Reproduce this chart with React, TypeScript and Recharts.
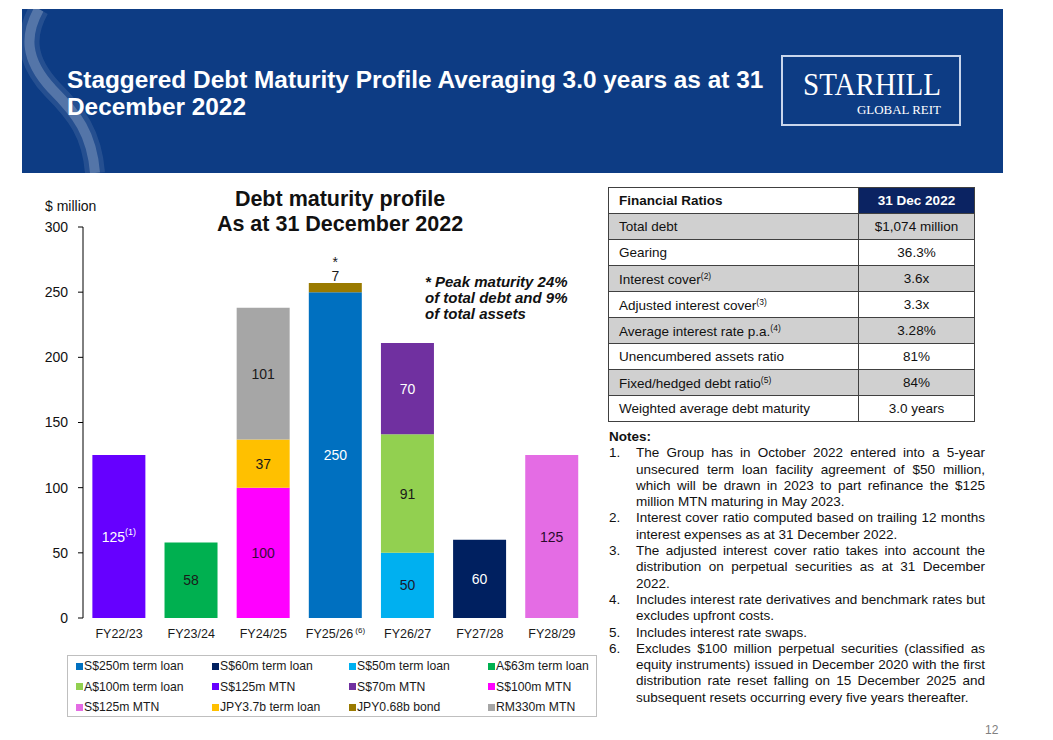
import React from 'react';
import { BarChart, Bar, XAxis, YAxis, LabelList, Legend } from 'recharts';

const FONT = '"Liberation Sans", Arial, Helvetica, sans-serif';
const SERIF = '"Liberation Serif", "DejaVu Serif", serif';

// ---------- chart data ----------
const categories = ['FY22/23', 'FY23/24', 'FY24/25', 'FY25/26', 'FY26/27', 'FY27/28', 'FY28/29'];
const categoryNotes = ['', '', '', '(6)', '', '', ''];
const yTicks = [0, 50, 100, 150, 200, 250, 300];
const boundaryTicks = [0, 1, 2, 3, 4, 5, 6, 7];

const sgd250mTermLoan = [0, 0, 0, 250, 0, 0, 0];
const sgd60mTermLoan = [0, 0, 0, 0, 0, 60, 0];
const sgd50mTermLoan = [0, 0, 0, 0, 50, 0, 0];
const aud63mTermLoan = [0, 58, 0, 0, 0, 0, 0];
const aud100mTermLoan = [0, 0, 0, 0, 91, 0, 0];
const sgd125mMtnA = [125, 0, 0, 0, 0, 0, 0];
const sgd70mMtn = [0, 0, 0, 0, 70, 0, 0];
const sgd100mMtn = [0, 0, 100, 0, 0, 0, 0];
const sgd125mMtnB = [0, 0, 0, 0, 0, 0, 125];
const jpy37bTermLoan = [0, 0, 37, 0, 0, 0, 0];
const jpy068bBond = [0, 0, 0, 7, 0, 0, 0];
const rm330mMtn = [0, 0, 101, 0, 0, 0, 0];

const sgd125mMtnANotes = ['(1)', '', '', '', '', '', ''];
const jpy068bBondMarks = ['', '', '', '*', '', '', ''];

const seriesNames = [
  'S$250m term loan', 'S$60m term loan', 'S$50m term loan', 'A$63m term loan',
  'A$100m term loan', 'S$125m MTN', 'S$70m MTN', 'S$100m MTN',
  'S$125m MTN', 'JPY3.7b term loan', 'JPY0.68b bond', 'RM330m MTN',
];
const seriesColors = [
  '#0070c0', '#002060', '#00b0f0', '#00b050',
  '#92d050', '#6600ff', '#7030a0', '#ff00ff',
  '#e46ce4', '#ffc000', '#9a7a00', '#a6a6a6',
];
const seriesLabelColors = [
  '#ffffff', '#ffffff', '#1a1a2e', '#1a1a1a',
  '#1a1a1a', '#ffffff', '#ffffff', '#3a0a3a',
  '#2a0a2a', '#1a1a1a', '#1a1a1a', '#1a1a1a',
];
const seriesValues = [
  sgd250mTermLoan, sgd60mTermLoan, sgd50mTermLoan, aud63mTermLoan,
  aud100mTermLoan, sgd125mMtnA, sgd70mMtn, sgd100mMtn,
  sgd125mMtnB, jpy37bTermLoan, jpy068bBond, rm330mMtn,
];
const seriesNotes = [null, null, null, null, null, sgd125mMtnANotes, null, null, null, null, null, null];
const seriesTopLabel = [false, false, false, false, false, false, false, false, false, false, true, false];
const seriesMarks = [null, null, null, null, null, null, null, null, null, null, jpy068bBondMarks, null];

const seriesKeys = seriesNames.map((_, i) => `s${i}`);
const data = categories.map((name, ci) => {
  const row: Record<string, any> = { name };
  seriesValues.forEach((vals, si) => { row[seriesKeys[si]] = vals[ci]; });
  return row;
});

// ---------- table / notes ----------
const ratioNames = ['Total debt', 'Gearing', 'Interest cover', 'Adjusted interest cover', 'Average interest rate p.a.', 'Unencumbered assets ratio', 'Fixed/hedged debt ratio', 'Weighted average debt maturity'];
const ratioNotes = ['', '', '(2)', '(3)', '(4)', '', '(5)', ''];
const ratioValues = ['$1,074 million', '36.3%', '3.6x', '3.3x', '3.28%', '81%', '84%', '3.0 years'];

const notes = [
  ['The Group has in October 2022 entered into a 5-year', 'unsecured term loan facility agreement of $50 million,', 'which will be drawn in 2023 to part refinance the $125', 'million MTN maturing in May 2023.'],
  ['Interest cover ratio computed based on trailing 12 months', 'interest expenses as at 31 December 2022.'],
  ['The adjusted interest cover ratio takes into account the', 'distribution on perpetual securities as at 31 December', '2022.'],
  ['Includes interest rate derivatives and benchmark rates but', 'excludes upfront costs.'],
  ['Includes interest rate swaps.'],
  ['Excludes $100 million perpetual securities (classified as', 'equity instruments) issued in December 2020 with the first', 'distribution rate reset falling on 15 December 2025 and', 'subsequent resets occurring every five years thereafter.'],
];

const makeLabel = (si: number) => (props: any) => {
  const { x, y, width, height, value } = props;
  const [vStr, cat] = String(value).split('|');
  const v = Number(vStr);
  if (!v) return null;
  const ci = categories.indexOf(cat);
  const cx = Number(x) + Number(width) / 2;
  const color = seriesLabelColors[si];
  if (seriesTopLabel[si]) {
    const mark = seriesMarks[si] ? seriesMarks[si]![ci] : '';
    return (
      <text textAnchor="middle" fontSize={14} fontFamily={FONT} fill={color}>
        {mark ? <tspan x={cx} y={Number(y) - 16} fill="#1a1a1a">{mark}</tspan> : null}
        <tspan x={cx} y={Number(y) - 2}>{v}</tspan>
      </text>
    );
  }
  const note = seriesNotes[si] ? seriesNotes[si]![ci] : '';
  const cy = Number(y) + Number(height) / 2;
  return (
    <text x={cx} y={cy + 5} textAnchor="middle" fontSize={14} fontFamily={FONT} fill={color}>
      {v}
      {note ? <tspan fontSize={9} dy={-7}>{note}</tspan> : null}
    </text>
  );
};

const XTick = (props: any) => {
  const { x, y, payload } = props;
  const note = categoryNotes[categories.indexOf(payload.value)];
  return (
    <text x={x} y={y} dy={12} textAnchor="middle" fontSize={12.5} fontFamily={FONT} fill="#1a1a1a">
      {payload.value}
      {note ? <tspan fontSize={8} dy={-5}>{' ' + note}</tspan> : null}
    </text>
  );
};

const LegendBox = () => (
  <div style={{
    width: 530, height: 62, border: '1px solid #bfbfbf', boxSizing: 'border-box',
    display: 'grid', gridTemplateColumns: '136px 137px 139px 110px', gridAutoRows: '20.5px',
    paddingLeft: 8, fontFamily: FONT, fontSize: 12.2, color: '#1a1a1a', background: '#fff',
  }}>
    {seriesNames.map((n, i) => (
      <div key={i} style={{ display: 'flex', alignItems: 'center', whiteSpace: 'nowrap' }}>
        <span style={{ display: 'inline-block', width: 7, height: 7, background: seriesColors[i], marginRight: 1 }} />
        {n}
      </div>
    ))}
  </div>
);

export default function App() {
  return (
    <div style={{ position: 'absolute', left: 0, top: 0, width: 1053, height: 740, background: '#fff', fontFamily: FONT, overflow: 'hidden' }}>
      {/* header */}
      <div style={{ position: 'absolute', left: 22, top: 9, width: 981, height: 164, background: '#0d3c84', overflow: 'hidden' }}>
        <svg width={981} height={164} style={{ position: 'absolute', left: 0, top: 0 }}>
          <path d="M 17 0 C 3 25, 2 50, 30 80 C 55 105, 70 125, 73 164" stroke="rgba(255,255,255,0.10)" strokeWidth={20} fill="none" />
          <path d="M 17 0 C 3 25, 2 50, 30 80 C 55 105, 70 125, 73 164" stroke="rgba(255,255,255,0.22)" strokeWidth={10} fill="none" />
          <rect x={760} y={47} width={178} height={69} fill="none" stroke="#c9d6ec" strokeWidth={2} />
          <text fill="#ffffff" fontFamily={SERIF}>
            <tspan x={781} y={86} fontSize={31} textLength={138} lengthAdjust="spacingAndGlyphs">STARHILL</tspan>
            <tspan x={835} y={105} fontSize={13.5} textLength={84} lengthAdjust="spacingAndGlyphs">GLOBAL REIT</tspan>
          </text>
        </svg>
        <div style={{ position: 'absolute', left: 45, top: 57, color: '#fff', fontWeight: 'bold', fontSize: 24.4, lineHeight: '27px', whiteSpace: 'nowrap' }}>
          Staggered Debt Maturity Profile Averaging 3.0 years as at 31<br />December 2022
        </div>
      </div>

      {/* chart titles */}
      <div style={{ position: 'absolute', left: 140, top: 187, width: 400, textAlign: 'center', fontWeight: 'bold', fontSize: 21.5, lineHeight: '25px', color: '#111' }}>
        Debt maturity profile<br />As at 31 December 2022
      </div>
      <div style={{ position: 'absolute', left: 45, top: 198, fontSize: 14, color: '#111' }}>$ million</div>
      <div style={{ position: 'absolute', left: 425, top: 274, fontSize: 15, lineHeight: '16px', fontWeight: 'bold', fontStyle: 'italic', color: '#111' }}>
        * Peak maturity 24%<br />of total debt and 9%<br />of total assets
      </div>

      {/* chart */}
      <div style={{ position: 'absolute', left: 0, top: 180 }}>
        <BarChart width={610} height={560} data={data} margin={{ top: 47, right: 22, bottom: 92, left: 23 }} barCategoryGap="13%">
          <XAxis xAxisId="edges" type="number" domain={[0, 7]} ticks={boundaryTicks} tick={false} tickSize={5}
            tickLine={{ stroke: '#000' }} axisLine={{ stroke: '#000' }} height={0} allowDataOverflow />
          <XAxis xAxisId="cat" dataKey="name" axisLine={false} tickLine={false} tickSize={6} tickMargin={2} height={30} interval={0} tick={<XTick />} />
          <YAxis domain={[0, 300]} ticks={yTicks} width={60} tickSize={5} tickMargin={10}
            axisLine={{ stroke: '#000' }} tickLine={{ stroke: '#000' }}
            tick={{ fill: '#111', fontSize: 14, fontFamily: FONT }} interval={0} />
          <Legend verticalAlign="middle" align="center" layout="horizontal"
            wrapperStyle={{ left: 67, top: 475, width: 530, height: 62 }} content={() => <LegendBox />} />
          {seriesKeys.map((k, i) => (
            <Bar key={k} xAxisId="cat" dataKey={k} name={seriesNames[i]} stackId="debt" fill={seriesColors[i]} isAnimationActive={false}>
              <LabelList dataKey={(row: any) => `${row[k]}|${row.name}`} content={makeLabel(i)} />
            </Bar>
          ))}
        </BarChart>
      </div>

      {/* ratios table */}
      <table style={{ position: 'absolute', left: 608, top: 187, width: 367, borderCollapse: 'collapse', fontSize: 13.5, color: '#111', tableLayout: 'fixed' }}>
        <tbody>
          <tr style={{ height: 26 }}>
            <td style={{ width: 239, border: '1px solid #404040', padding: '0 0 0 10px', fontWeight: 'bold', background: '#fff' }}>Financial Ratios</td>
            <td style={{ border: '1px solid #404040', textAlign: 'center', fontWeight: 'bold', background: '#0b2362', color: '#fff' }}>31 Dec 2022</td>
          </tr>
          {ratioNames.map((n, i) => (
            <tr key={i} style={{ height: 26, background: i % 2 === 0 ? '#d0d0d0' : '#fff' }}>
              <td style={{ border: '1px solid #404040', padding: '0 0 0 10px', whiteSpace: 'nowrap' }}>
                {n}{ratioNotes[i] ? <sup style={{ fontSize: 8.5, verticalAlign: '5px' }}>{ratioNotes[i]}</sup> : null}
              </td>
              <td style={{ border: '1px solid #404040', textAlign: 'center' }}>{ratioValues[i]}</td>
            </tr>
          ))}
        </tbody>
      </table>

      {/* notes */}
      <div style={{ position: 'absolute', left: 609, top: 429, width: 380, fontSize: 13.5, lineHeight: '16.3px', color: '#111' }}>
        <div style={{ fontWeight: 'bold' }}>Notes:</div>
        {notes.map((lines, ni) => (
          <div key={ni} style={{ position: 'relative', paddingLeft: 27 }}>
            <span style={{ position: 'absolute', left: 0, top: 0 }}>{ni + 1}.</span>
            {lines.map((ln, li) => (
              <div key={li} style={{
                width: 349, whiteSpace: 'nowrap',
                textAlign: li < lines.length - 1 ? 'justify' : 'left',
                textAlignLast: li < lines.length - 1 ? 'justify' : 'left',
              } as any}>{ln}</div>
            ))}
          </div>
        ))}
      </div>

      <div style={{ position: 'absolute', left: 985, top: 723, fontSize: 12, color: '#808080' }}>12</div>
    </div>
  );
}
